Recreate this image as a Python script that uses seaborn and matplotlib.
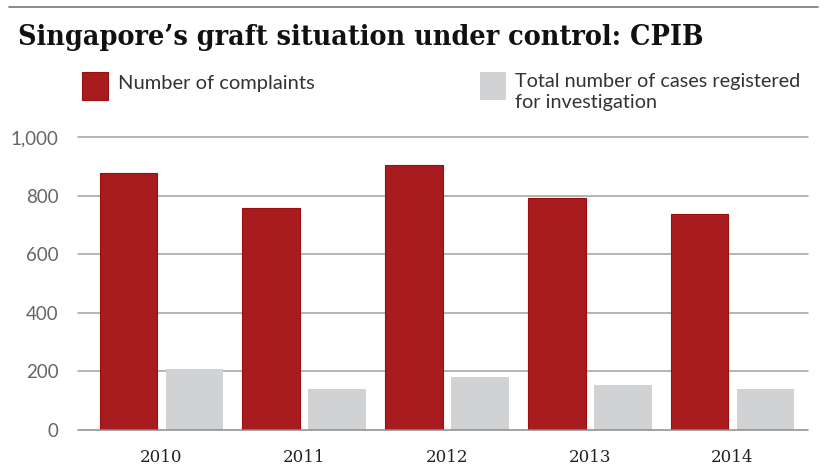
import matplotlib
matplotlib.use("Agg")
import matplotlib.pyplot as plt
import seaborn as sns
import pandas as pd
from matplotlib.patches import Rectangle
from matplotlib.lines import Line2D

years = ["2010", "2011", "2012", "2013", "2014"]
complaints = [877, 757, 906, 792, 737]
cases = [207, 140, 181, 154, 140]
series_names = ["Number of complaints", "Total number of cases registered\nfor investigation"]
title = "Singapore\u2019s graft situation under control: CPIB"
yticks = [0, 200, 400, 600, 800, 1000]
ytick_labels = ["0", "200", "400", "600", "800", "1,000"]

RED = "#A81B1E"
GRAY = "#D1D2D3"

df = pd.DataFrame({
    "year": years * 2,
    "value": complaints + cases,
    "series": [series_names[0]] * len(years) + [series_names[1]] * len(years),
})

sns.set_theme(style="white")
W, H = 830, 468
fig = plt.figure(figsize=(W / 100, H / 100), dpi=100)
ax = fig.add_axes([78 / W, 1 - 430 / H, (808 - 78) / W, (430 - 137.3) / H])

sns.barplot(data=df, x="year", y="value", hue="series", order=years,
            hue_order=series_names, palette=[RED, GRAY], width=0.924, gap=0.125,
            saturation=1, legend=False, ax=ax, zorder=2)
for p in ax.patches:
    fc = p.get_facecolor()
    if fc[0] > 0.6 and fc[1] < 0.3:
        p.set_edgecolor("#9A0E10")
        p.set_linewidth(0.8)
    else:
        p.set_edgecolor("none")

ax.set_xlim(-0.585, 4.529)
ax.set_ylim(0, 1000)
ax.set_yticks(yticks)
ax.set_yticklabels(ytick_labels, fontfamily="Lato", fontsize=13.5, color="#666666")
ax.set_xticklabels(years, fontfamily="DejaVu Serif", fontsize=12, color="#222222")
ax.tick_params(axis="y", length=0, pad=14)
ax.tick_params(axis="x", length=0, pad=14)
ax.set_xlabel("")
ax.set_ylabel("")
for s in ax.spines.values():
    s.set_visible(False)
for v in yticks:
    ax.axhline(v, color="#8a8a8a" if v == 0 else "#a0a0a0", lw=1.1, zorder=1 if v else 3, clip_on=False)

# top rule
fig.add_artist(Line2D([9 / W, 818 / W], [1 - 7 / H, 1 - 7 / H], color="#777777", lw=1.2))
fig.text(18 / W, 1 - 45 / H, title, fontfamily="DejaVu Serif", fontstretch="condensed",
         fontweight="bold", fontsize=20.5, color="#111111", va="baseline", ha="left")

# legend
fig.add_artist(Rectangle((82 / W, 1 - 100 / H), 26 / W, 28 / H, facecolor=RED,
                         edgecolor="#9A0E10", lw=0.8, transform=fig.transFigure))
fig.add_artist(Rectangle((480 / W, 1 - 100 / H), 26 / W, 28 / H, facecolor=GRAY,
                         edgecolor="none", transform=fig.transFigure))
fig.text(118 / W, 1 - 84 / H, series_names[0], fontfamily="Lato",
         fontsize=14.5, color="#333333", va="center", ha="left")
fig.text(515 / W, 1 - 73 / H, series_names[1], fontfamily="Lato",
         fontsize=14.3, color="#333333", va="top", ha="left", linespacing=1.3)

fig.savefig("out.png", dpi=100)
